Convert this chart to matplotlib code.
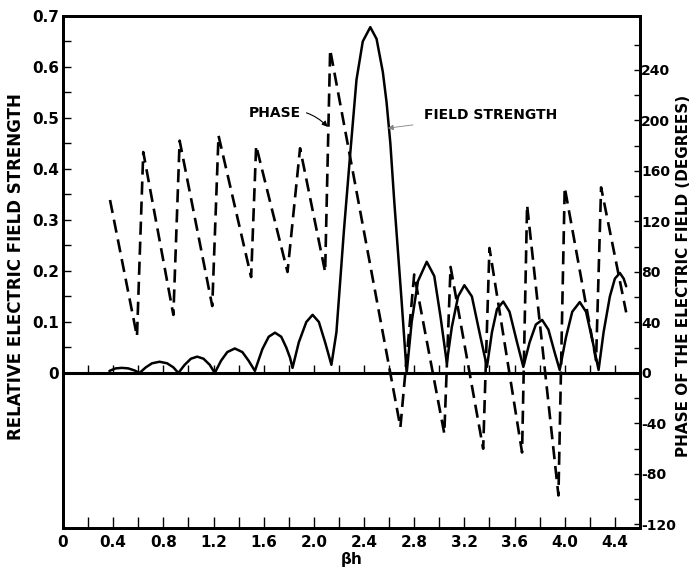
import numpy as np
import matplotlib
matplotlib.use('Agg')
import matplotlib.pyplot as plt

plt.rcParams['font.family'] = 'DejaVu Sans'
plt.rcParams['font.weight'] = 'bold'

# field strength (solid)
strength_x = [0.37, 0.42, 0.47, 0.52, 0.57, 0.61,
              0.66, 0.71, 0.77, 0.83, 0.88, 0.92,
              0.97, 1.02, 1.07, 1.12, 1.17, 1.21,
              1.26, 1.31, 1.37, 1.43, 1.48, 1.53,
              1.545, 1.59, 1.64, 1.69, 1.74, 1.78, 1.81,
              1.83, 1.88, 1.94, 1.99, 2.04, 2.09, 2.14,
              2.18, 2.21, 2.24, 2.29, 2.34, 2.39, 2.45, 2.50, 2.55, 2.58, 2.61, 2.64, 2.67, 2.70, 2.74,
              2.78, 2.83, 2.90, 2.96, 3.01, 3.06,
              3.10, 3.15, 3.20, 3.26, 3.32, 3.38,
              3.42, 3.46, 3.51, 3.56, 3.62, 3.67,
              3.72, 3.77, 3.82, 3.87, 3.92, 3.96,
              4.01, 4.06, 4.12, 4.17, 4.22, 4.27,
              4.31, 4.36, 4.40, 4.44, 4.47, 4.49]
strength_y = [0.004, 0.009, 0.010, 0.009, 0.005, 0.0,
              0.011, 0.019, 0.022, 0.019, 0.011, 0.0,
              0.016, 0.028, 0.032, 0.028, 0.016, 0.0,
              0.024, 0.041, 0.048, 0.041, 0.024, 0.004,
              0.015, 0.047, 0.071, 0.079, 0.071, 0.050, 0.030,
              0.010, 0.060, 0.100, 0.114, 0.100, 0.060, 0.016,
              0.08, 0.18, 0.28, 0.43, 0.575, 0.65, 0.678, 0.655, 0.59, 0.53, 0.45, 0.34, 0.24, 0.14, 0.0,
              0.10, 0.18, 0.218, 0.19, 0.11, 0.02,
              0.09, 0.15, 0.172, 0.15, 0.08, 0.012,
              0.08, 0.125, 0.14, 0.12, 0.06, 0.012,
              0.06, 0.095, 0.104, 0.085, 0.04, 0.006,
              0.07, 0.12, 0.139, 0.12, 0.065, 0.006,
              0.08, 0.15, 0.185, 0.196, 0.185, 0.17]

# phase (dashed), turning points of the sawtooth, degrees
phase_x = [0.375, 0.59, 0.64, 0.88, 0.93, 1.19, 1.24, 1.50, 1.54, 1.79, 1.89, 2.09, 2.13,
           2.69, 2.80, 3.04, 3.09, 3.35, 3.40, 3.66, 3.70, 3.95, 4.00, 4.25, 4.29, 4.49]
phase_y = [137, 29, 175, 46, 184, 53, 188, 76, 180, 80, 178, 80, 256,
           -43, 78, -48, 84, -60, 99, -63, 133, -97, 147, 10, 147, 48]

x_ticks = np.arange(0, 4.41, 0.4)
x_labels = ['0', '0.4', '0.8', '1.2', '1.6', '2.0', '2.4', '2.8', '3.2', '3.6', '4.0', '4.4']
left_ticks = np.arange(0, 0.71, 0.1)
left_labels = ['0', '0.1', '0.2', '0.3', '0.4', '0.5', '0.6', '0.7']
right_ticks = np.arange(-120, 241, 40)
right_labels = ['-120', '-80', '-40', '0', '40', '80', '120', '160', '200', '240']

deg_per_unit = 404.0

fig = plt.figure(figsize=(6.96, 5.69), dpi=100)
ax = fig.add_axes([0.0905, 0.072, 0.829, 0.900])
ax.set_xlim(0, 4.6)
ax.set_ylim(-0.304, 0.7)
ax2 = ax.twinx()
ax2.set_ylim(-0.304 * deg_per_unit, 0.7 * deg_per_unit)

ax.plot(strength_x, strength_y, color='black', lw=1.8, solid_capstyle='round')
ax2.plot(phase_x, phase_y, color='black', lw=1.9, dashes=(5, 2.6))

# zero line with its small upward ticks
ax.axhline(0, color='black', lw=2.2)
zero_ticks = np.arange(0.2, 4.41, 0.2)
ax.vlines(zero_ticks, 0, 0.016, color='black', lw=1.0)

for sp in ax.spines.values():
    sp.set_linewidth(2.0)
for sp in ax2.spines.values():
    sp.set_linewidth(2.0)

ax.set_xticks(x_ticks)
ax.set_xticklabels(x_labels, fontsize=11, fontweight='bold')
ax.set_xticks(np.arange(0.2, 4.41, 0.4), minor=True)
ax.tick_params(axis='x', which='both', direction='in', length=8, width=1.0, pad=5)

ax.set_yticks(left_ticks)
ax.set_yticklabels(left_labels, fontsize=11, fontweight='bold')
ax.set_yticks(np.arange(0.05, 0.7, 0.1), minor=True)
ax.tick_params(axis='y', which='both', direction='in', length=6, width=1.0, pad=3)

ax2.set_yticks(right_ticks)
ax2.set_yticklabels(right_labels, fontsize=10, fontweight='bold')
ax2.set_yticks(np.arange(-100, 281, 40), minor=True)
ax2.tick_params(axis='y', which='both', direction='in', length=4, width=1.0, pad=1)

ax.set_ylabel('RELATIVE ELECTRIC FIELD STRENGTH', fontsize=12, fontweight='bold')
ax.yaxis.set_label_coords(-0.066, 0.51)
ax2.set_ylabel('PHASE OF THE ELECTRIC FIELD (DEGREES)', fontsize=11, fontweight='bold',
               rotation=90)
ax2.yaxis.set_label_coords(1.063, 0.492)
ax.set_xlabel(r'$\mathbf{\beta}$h', fontsize=11, fontweight='bold', labelpad=0)

ax2.annotate('PHASE', xy=(2.11, 195), xytext=(1.69, 206), fontsize=10, fontweight='bold',
             ha='center', va='center',
             arrowprops=dict(arrowstyle='-|>', color='black', lw=0.8,
                             connectionstyle='arc3,rad=-0.3', shrinkA=2, shrinkB=0,
                             mutation_scale=8))
ax.annotate('FIELD STRENGTH', xy=(2.59, 0.48), xytext=(3.41, 0.506), fontsize=10,
            fontweight='bold', ha='center', va='center',
            arrowprops=dict(arrowstyle='-|>', color='gray', lw=0.6,
                            shrinkA=6, shrinkB=0, mutation_scale=8))

fig.savefig('out.png', dpi=100)
